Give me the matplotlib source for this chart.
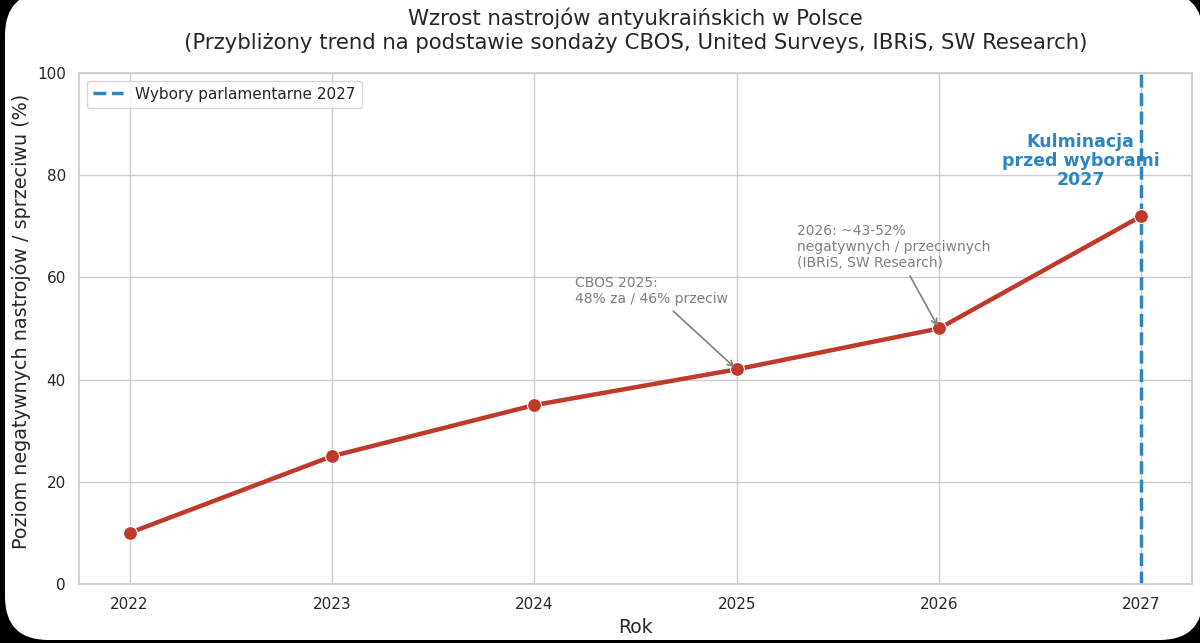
import matplotlib
matplotlib.use("Agg")
import matplotlib.pyplot as plt
import seaborn as sns
from matplotlib.patches import FancyBboxPatch

years = [2022, 2023, 2024, 2025, 2026, 2027]
values = [10, 25, 35, 42, 50, 72]
election_year = 2027

title = ("Wzrost nastrojów antyukraińskich w Polsce\n"
         "(Przybliżony trend na podstawie sondaży CBOS, United Surveys, IBRiS, SW Research)")
xlabel = "Rok"
ylabel = "Poziom negatywnych nastrojów / sprzeciwu (%)"
legend_label = "Wybory parlamentarne 2027"
note_2025 = "CBOS 2025:\n48% za / 46% przeciw"
note_2026 = "2026: ~43-52%\nnegatywnych / przeciwnych\n(IBRiS, SW Research)"
peak_text = "Kulminacja\nprzed wyborami\n2027"

sns.set_theme(style="whitegrid")
plt.rcParams['font.family'] = ['DejaVu Sans']

fig = plt.figure(figsize=(12, 6.43), dpi=100)
fig.patch.set_facecolor("black")
bg = FancyBboxPatch((5 / 1200, 3 / 643), 1198 / 1200, 648 / 643,
                    boxstyle="round,pad=0,rounding_size=0.036",
                    transform=fig.transFigure, facecolor="white", edgecolor="none",
                    mutation_aspect=12 / 6.43, zorder=-10)
fig.patches.append(bg)

ax = fig.add_axes([0.0658, 0.0918, 0.9275, 0.7947])
ax.set_facecolor("white")

red = "#c0392b"
blue = "#2e86c1"

ax.plot(years, values, color=red, linewidth=3.2, marker="o", markersize=10,
        markeredgecolor="white", markeredgewidth=0.8, zorder=3)
ax.axvline(election_year, color=blue, linestyle="--", linewidth=2.5, label=legend_label, zorder=2)

ax.set_ylim(0, 100)
ax.set_xticks(years)
ax.tick_params(labelsize=11)
ax.set_xlabel(xlabel, fontsize=13.5)
ax.set_ylabel(ylabel, fontsize=13.8)
ax.yaxis.label.set_y(0.513)
ax.set_title(title, fontsize=15.3, pad=17.5)

ax.annotate(note_2025, xy=(years[3], values[3]), xytext=(2024.2, 54.4),
            fontsize=10, color="gray", ha="left", va="bottom",
            arrowprops=dict(arrowstyle="->", color="gray", lw=1.2))
ax.annotate(note_2026, xy=(years[4], values[4]), xytext=(2025.3, 61.4),
            fontsize=10, color="gray", ha="left", va="bottom",
            arrowprops=dict(arrowstyle="->", color="gray", lw=1.2))
ax.text(2026.7, 82.8, peak_text, fontsize=12.5, fontweight="bold", color=blue,
        ha="center", va="center", linespacing=1.05)

ax.legend(loc="upper left", fontsize=11)

fig.savefig("out.png", dpi=100, facecolor=fig.get_facecolor())
